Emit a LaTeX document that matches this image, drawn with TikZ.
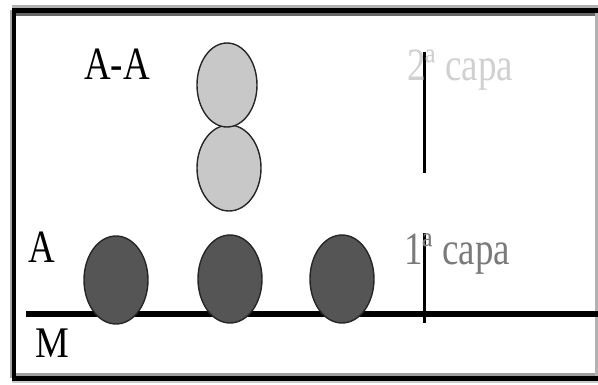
\documentclass[tikz,border=0pt]{standalone}
\usepackage{fontspec}
\setmainfont{Liberation Serif}
\usetikzlibrary{shapes.geometric}
\definecolor{darkfill}{HTML}{555555}
\definecolor{lightfill}{HTML}{C8C8C8}
\definecolor{capaone}{HTML}{7A7A7A}
\definecolor{capatwo}{HTML}{D0D0D0}
\tikzset{
  ball/.style={ellipse, draw=black!85, line width=1.4pt, inner sep=0pt},
  darkball/.style={ball, fill=darkfill, minimum width=64pt, minimum height=88pt},
  lightball/.style={ball, fill=lightfill},
  lbl/.style={inner sep=0pt, anchor=base west},
  marker/.style={line width=3.5pt, draw=black},
}
\newcommand{\lbltext}[1]{\scalebox{1}[1.25]{\fontsize{37}{40}\selectfont #1}}
\begin{document}
\begin{tikzpicture}[x=1pt,y=-1pt]
\useasboundingbox (0,0) rectangle (598,385);
% frame
\fill[gray!60] (12,5.5) rectangle (598,8.5);
\fill[black] (12,8.5) rectangle (598,13);
\fill[gray!80!black] (16,13) rectangle (598,16);
\fill[gray!70] (10,10) rectangle (12,378);
\fill[black] (12,10) rectangle (16,380);
\fill[gray!75] (16,373) rectangle (598,376);
\fill[black] (12,376) rectangle (598,380.5);
\fill[gray!40] (12,380.5) rectangle (598,383);
\fill[gray!60] (594.5,13) rectangle (597.5,376);
% ground line
\coordinate (g0) at (26,314);
\coordinate (g1) at (598,314);
\draw[line width=6pt] (g0) -- (g1);
% markers
\coordinate (m2top) at (424.5,52);
\coordinate (m2bot) at (424.5,173);
\coordinate (m1top) at (424.5,233);
\coordinate (m1bot) at (424.5,323);
\draw[marker] (m2top) -- (m2bot);
\draw[marker] (m1top) -- (m1bot);
% first layer
\node[darkball] (c1) at (116,280) {};
\node[darkball] (c2) at (230,279) {};
\node[darkball] (c3) at (342,279) {};
% second layer
\node[lightball, minimum width=64pt, minimum height=86pt] (s1) at (229,168) {};
\node[lightball, minimum width=60pt, minimum height=84pt] (s2) at (227,85) {};
% labels
\node[lbl] (aa) at (84,80) {\lbltext{A-A}};
\node[lbl] (a) at (28,263) {\lbltext{A}};
\node[lbl] (m) at (35,357) {\scalebox{1}[1.15]{\fontsize{38}{40}\selectfont M}};
\node[lbl, text=capatwo] (capa2) at (407,81) {\lbltext{2ª capa}};
\node[lbl, text=capaone] (capa1) at (404,265) {\lbltext{1ª capa}};
\end{tikzpicture}
\end{document}
